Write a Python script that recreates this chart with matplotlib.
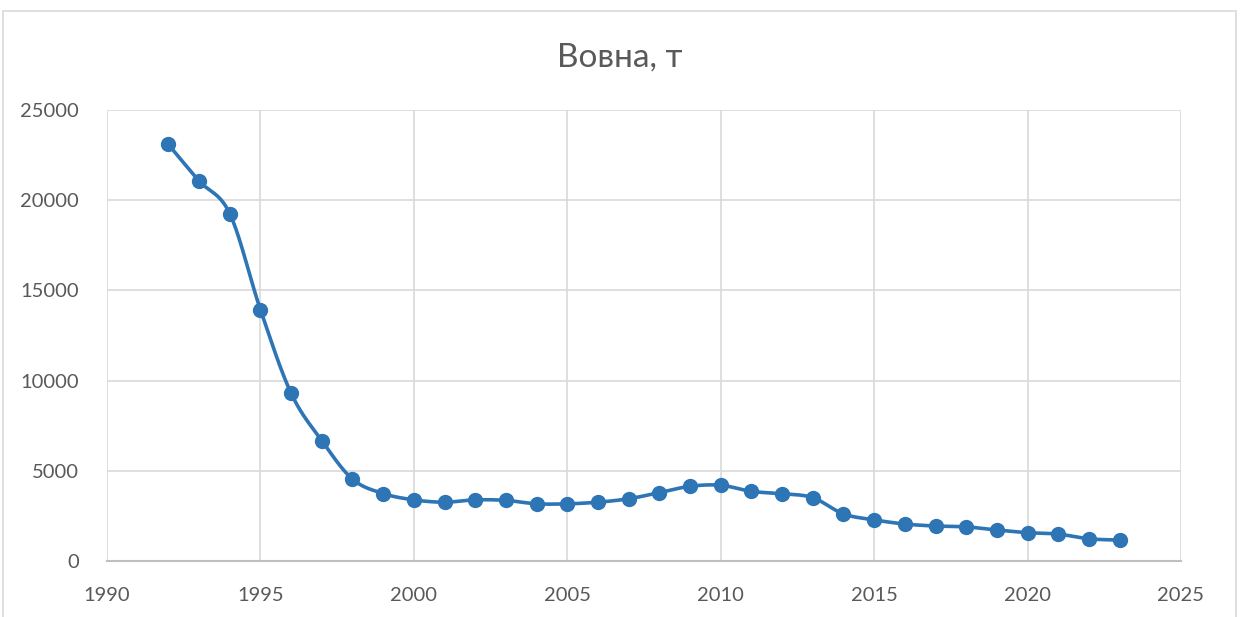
import numpy as np
import matplotlib.pyplot as plt
from matplotlib.patches import Rectangle

years = [1992, 1993, 1994, 1995, 1996, 1997, 1998, 1999, 2000, 2001,
         2002, 2003, 2004, 2005, 2006, 2007, 2008, 2009, 2010, 2011,
         2012, 2013, 2014, 2015, 2016, 2017, 2018, 2019, 2020, 2021,
         2022, 2023]
wool = [23090, 21070, 19260, 13930, 9300, 6670, 4540, 3740, 3390, 3260,
        3390, 3360, 3170, 3170, 3260, 3450, 3790, 4140, 4200, 3860,
        3730, 3510, 2610, 2280, 2050, 1940, 1890, 1720, 1570, 1490,
        1230, 1160]

x_ticks = [1990, 1995, 2000, 2005, 2010, 2015, 2020, 2025]
y_ticks = [0, 5000, 10000, 15000, 20000, 25000]

plt.rcParams['font.family'] = ['Lato', 'DejaVu Sans']

line_color = "#2E75B6"
text_color = "#595959"
grid_color = "#D9D9D9"


def smooth(xs, ys, n=20):
    # catmull-rom curve through the points, like Excel's smoothed line
    xs = np.asarray(xs, float)
    ys = np.asarray(ys, float)
    px = np.concatenate([[2 * xs[0] - xs[1]], xs, [2 * xs[-1] - xs[-2]]])
    py = np.concatenate([[2 * ys[0] - ys[1]], ys, [2 * ys[-1] - ys[-2]]])
    out_x, out_y = [], []
    t = np.linspace(0, 1, n, endpoint=False)
    for i in range(1, len(px) - 2):
        for p, out in ((px, out_x), (py, out_y)):
            p0, p1, p2, p3 = p[i - 1], p[i], p[i + 1], p[i + 2]
            out.extend(0.5 * ((2 * p1) + (-p0 + p2) * t
                              + (2 * p0 - 5 * p1 + 4 * p2 - p3) * t ** 2
                              + (-p0 + 3 * p1 - 3 * p2 + p3) * t ** 3))
    out_x.append(xs[-1])
    out_y.append(ys[-1])
    return np.array(out_x), np.array(out_y)


fig = plt.figure(figsize=(12.4, 6.17), dpi=100)

fig.patches.append(Rectangle(
    (3 / 1240, -0.1), 1233 / 1240, 1.1 - 11 / 617,
    transform=fig.transFigure, fill=False,
    edgecolor=grid_color, linewidth=1.2
))

ax = fig.add_axes([107 / 1240, 56 / 617, 1074 / 1240, 451 / 617])

sx, sy = smooth(years, wool)
ax.plot(sx, sy, color=line_color, linewidth=2.6, zorder=3)
ax.plot(years, wool, linestyle="none", marker="o", markersize=10,
        color=line_color, zorder=4)

ax.set_xlim(1990, 2025)
ax.set_ylim(0, 25000)
ax.set_xticks(x_ticks)
ax.set_yticks(y_ticks)

ax.grid(True, color=grid_color, linewidth=1.2)
ax.set_axisbelow(True)
for side in ["top", "right", "left"]:
    ax.spines[side].set_visible(False)
ax.spines["bottom"].set_color("#BFBFBF")
ax.spines["bottom"].set_linewidth(1.5)

ax.tick_params(length=0, labelsize=14.5, colors=text_color)
ax.tick_params(axis="x", pad=19)
ax.tick_params(axis="y", pad=20)

fig.text(0.5, 1 - 58 / 617, "Вовна, т", ha="center", va="center",
         fontsize=24, color=text_color)

fig.savefig("out.png", dpi=100)
